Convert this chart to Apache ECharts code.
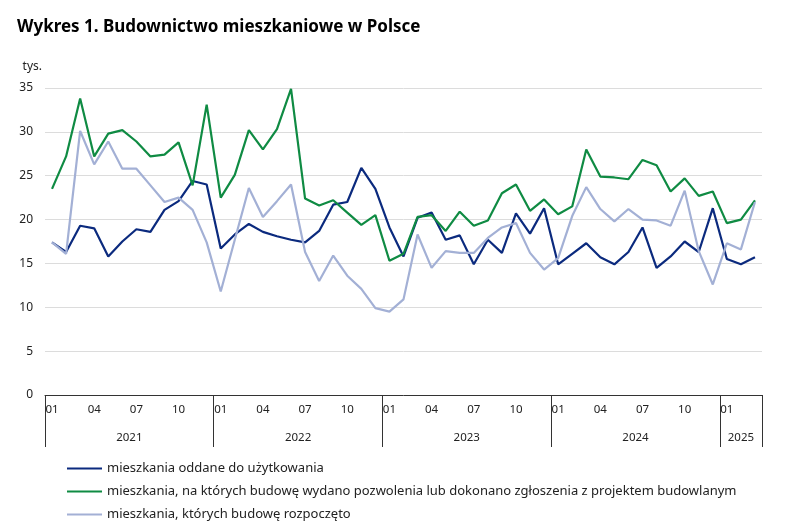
<!DOCTYPE html>
<html>
<head>
<meta charset="utf-8">
<script src="https://cdn.jsdelivr.net/npm/echarts@6/dist/echarts.min.js"></script>
<style>
  html, body { margin: 0; padding: 0; background: #fff; }
  #chart { width: 809px; height: 525px; }
</style>
</head>
<body>
<div id="chart"></div>
<script>
// miesiące 01.2021 - 03.2025
var years = ['2021', '2022', '2023', '2024', '2025'];
var monthsPerYear = [12, 12, 12, 12, 3];
var months = [];
years.forEach(function (y, k) {
    for (var m = 1; m <= monthsPerYear[k]; m++) {
        months.push((m < 10 ? '0' : '') + m);
    }
});

// tys. mieszkań
var oddane = [
    17.4, 16.3, 19.3, 19.0, 15.8, 17.5, 18.9, 18.6, 21.1, 22.1, 24.4, 24.0,
    16.7, 18.3, 19.5, 18.6, 18.1, 17.7, 17.4, 18.7, 21.7, 22.0, 25.9, 23.5,
    19.1, 15.8, 20.2, 20.8, 17.7, 18.2, 14.9, 17.7, 16.2, 20.7, 18.4, 21.3,
    14.9, 16.1, 17.3, 15.7, 14.9, 16.3, 19.1, 14.5, 15.8, 17.5, 16.3, 21.3,
    15.5, 14.9, 15.7
];
var pozwolenia = [
    23.5, 27.2, 33.8, 27.2, 29.8, 30.2, 28.9, 27.2, 27.4, 28.8, 23.9, 33.1,
    22.5, 25.1, 30.2, 28.0, 30.3, 34.9, 22.4, 21.6, 22.2, 20.8, 19.4, 20.5,
    15.3, 16.1, 20.3, 20.5, 18.7, 20.9, 19.3, 19.9, 23.0, 24.0, 21.0, 22.3,
    20.6, 21.5, 28.0, 24.9, 24.8, 24.6, 26.8, 26.2, 23.2, 24.7, 22.7, 23.2,
    19.6, 20.0, 22.2
];
var rozpoczete = [
    17.4, 16.1, 30.1, 26.3, 28.9, 25.8, 25.8, 23.9, 22.0, 22.5, 21.1, 17.4,
    11.8, 17.7, 23.6, 20.3, 22.1, 24.0, 16.3, 13.0, 15.9, 13.6, 12.1, 9.9,
    9.5, 10.9, 18.3, 14.5, 16.4, 16.2, 16.2, 17.9, 19.1, 19.6, 16.2, 14.3,
    15.6, 20.4, 23.7, 21.2, 19.8, 21.2, 20.0, 19.9, 19.3, 23.3, 16.4, 12.6,
    17.3, 16.6, 22.0
];

var seriesNames = [
    'mieszkania oddane do użytkowania',
    'mieszkania, na których budowę wydano pozwolenia lub dokonano zgłoszenia z projektem budowlanym',
    'mieszkania, których budowę rozpoczęto'
];
var colors = ['#0b2a7e', '#0f8b43', '#a3b0d5'];

// środki lat na osi pomocniczej (w miesiącach od początku)
var yearCenters = [];
var acc = 0;
monthsPerYear.forEach(function (n) {
    yearCenters.push(acc + n / 2);
    acc += n;
});

var font = 'Noto Sans';
var chart = echarts.init(document.getElementById('chart'));
var option = {
    animation: false,
    color: colors,
    textStyle: { fontFamily: font },
    title: {
        text: 'Wykres 1. Budownictwo mieszkaniowe w Polsce',
        left: 12,
        top: 14,
        textStyle: { fontFamily: font, fontSize: 17, fontWeight: 'bold', color: '#000' }
    },
    legend: {
        orient: 'vertical',
        left: 61,
        top: 457,
        height: 100,
        itemWidth: 35,
        itemHeight: 13,
        itemGap: 10,
        data: seriesNames,
        itemStyle: { opacity: 0 },
        textStyle: { fontFamily: font, fontSize: 13, color: '#222' }
    },
    grid: { left: 45, right: 47, top: 88, bottom: 130 },
    xAxis: [{
        type: 'category',
        data: months,
        boundaryGap: true,
        axisLine: { lineStyle: { color: '#333', width: 1 } },
        axisTick: {
            show: true,
            interval: function (i) { return i % 12 === 0; },
            length: 52,
            lineStyle: { color: '#333', width: 1 }
        },
        axisLabel: {
            interval: function (i) { return i % 3 === 0; },
            color: '#222',
            fontSize: 11.5,
            margin: 9
        }
    }, {
        type: 'value',
        position: 'bottom',
        min: 0,
        max: months.length,
        offset: 29,
        axisLine: { show: false },
        axisTick: { show: false },
        splitLine: { show: false },
        axisLabel: {
            customValues: yearCenters,
            formatter: function (v, i) {
                var k = yearCenters.indexOf(v);
                return k >= 0 ? years[k] : '';
            },
            color: '#222',
            fontSize: 11.5,
            margin: 8
        }
    }],
    yAxis: {
        type: 'value',
        min: 0,
        max: 35,
        interval: 5,
        name: 'tys.',
        nameLocation: 'end',
        nameGap: 15,
        nameTextStyle: { color: '#222', fontSize: 12, align: 'right', padding: [0, 3, 0, 0] },
        axisLine: { show: false },
        axisTick: { show: false },
        splitLine: { lineStyle: { color: '#dcdcdc', width: 1 } },
        axisLabel: { color: '#222', fontSize: 12, margin: 12 }
    },
    series: [
        { name: seriesNames[0], type: 'line', data: oddane, symbol: 'none', lineStyle: { width: 2.2 } },
        { name: seriesNames[1], type: 'line', data: pozwolenia, symbol: 'none', lineStyle: { width: 2.2 } },
        { name: seriesNames[2], type: 'line', data: rozpoczete, symbol: 'none', lineStyle: { width: 2.2 } }
    ]
};
chart.setOption(option);
</script>
</body>
</html>
